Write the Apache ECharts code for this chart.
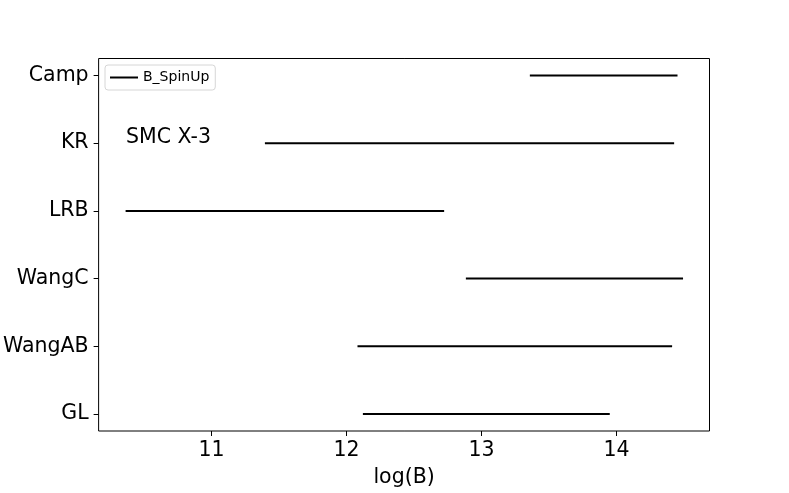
<!DOCTYPE html>
<html>
<head>
<meta charset="utf-8">
<script src="https://cdn.jsdelivr.net/npm/echarts@6/dist/echarts.min.js"></script>
<style>html,body{margin:0;padding:0;background:#fff;}#c{width:789px;height:493px;}</style>
</head>
<body>
<div id="c"></div>
<script>
var categories = ['GL', 'WangAB', 'WangC', 'LRB', 'KR', 'Camp'];
var lowB  = [12.121, 12.081, 12.884, 10.363, 11.395, 13.358];
var highB = [13.950, 14.412, 14.493, 12.723, 14.427, 14.452];
var xTicks = [11, 12, 13, 14];
var seriesName = 'B_SpinUp';
var annotation = 'SMC X-3';

var font = 'DejaVu Sans';
var chart = echarts.init(document.getElementById('c'), null, {renderer: 'canvas'});
var series = categories.map(function (c, i) {
  return {
    name: seriesName,
    type: 'line',
    symbol: 'none',
    showSymbol: false,
    silent: true,
    animation: false,
    lineStyle: {color: '#000', width: 2},
    itemStyle: {color: '#000'},
    data: [[lowB[i], i], [highB[i], i]]
  };
});
chart.setOption({
  animation: false,
  backgroundColor: '#fff',
  grid: {left: 98.5, right: 79.5, top: 58.5, bottom: 61.5, containLabel: false,
         show: true, borderColor: '#000', borderWidth: 1, backgroundColor: 'transparent'},
  legend: {
    data: [seriesName],
    left: 105, top: 65,
    orient: 'vertical',
    icon: 'rect',
    itemWidth: 28, itemHeight: 2, itemGap: 5,
    padding: [5, 6, 5, 5],
    borderColor: '#d6d6d6', borderWidth: 1, borderRadius: 3,
    backgroundColor: 'rgba(255,255,255,0.8)',
    itemStyle: {color: '#000'},
    textStyle: {fontFamily: font, fontSize: 14, color: '#000', lineHeight: 15},
    selectedMode: false
  },
  xAxis: {
    type: 'value',
    min: 10.163, max: 14.689,
    name: 'log(B)', nameLocation: 'middle', nameGap: 36,
    nameTextStyle: {fontFamily: font, fontSize: 20.5, color: '#000'},
    axisLine: {show: false, onZero: false},
    axisTick: {show: true, length: 5, lineStyle: {color: '#000'}, customValues: xTicks},
    axisLabel: {fontFamily: font, fontSize: 20.5, color: '#000', margin: 9, customValues: xTicks,
                formatter: function (v) { return String(v); }},
    splitLine: {show: false}
  },
  yAxis: {
    type: 'value',
    min: -0.25, max: 5.25,
    axisLine: {show: false, onZero: false},
    axisTick: {show: true, length: 5, lineStyle: {color: '#000'}, customValues: [0,1,2,3,4,5]},
    axisLabel: {fontFamily: font, fontSize: 20.5, color: '#000', margin: 10, customValues: [0,1,2,3,4,5],
                formatter: function (v) { return categories[Math.round(v)]; }},
    splitLine: {show: false}
  },
  graphic: [
    {type: 'text', x: 126, y: 138, silent: true, z: 10,
     style: {text: annotation, fontFamily: font, fontSize: 20.5, fill: '#000', textVerticalAlign: 'middle', textAlign: 'left'}}
  ],
  series: series
});
</script>
</body>
</html>
